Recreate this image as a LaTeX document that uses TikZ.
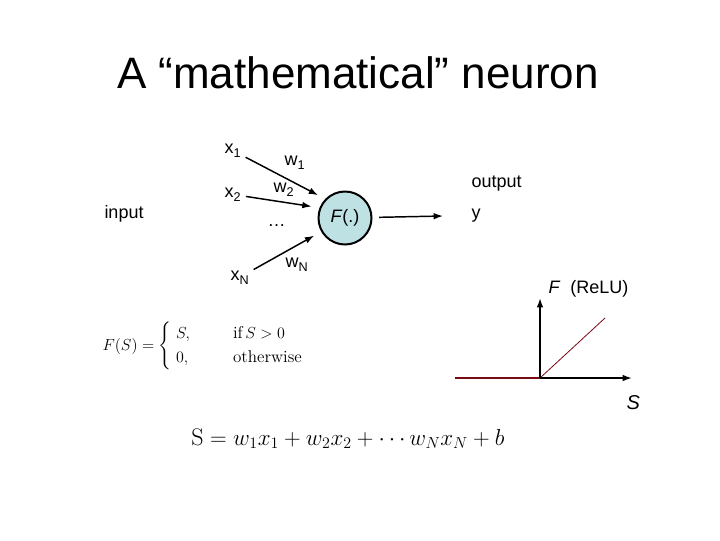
\documentclass[tikz,border=0pt]{standalone}
\usepackage{fontspec}
\usepackage{amsmath}
\newfontfamily\arialfont{Liberation Sans}
\usetikzlibrary{arrows.meta}

\definecolor{cellfill}{RGB}{190,225,228}
\definecolor{relured}{RGB}{120,10,20}
\newcommand{\lowsub}[1]{\raisebox{-0.45ex}{\fontsize{9.5}{11}\selectfont #1}}

\tikzset{every picture/.style={line width=0.75pt}}
\tikzset{
  lbl/.style={anchor=base west,inner sep=0.75pt,font=\arialfont\fontsize{13.5}{16}\selectfont},
  syn/.style={-{Latex[length=7pt,width=5pt]},line width=1.1pt,shorten <=3pt,shorten >=6pt},
  axis/.style={-{Latex[length=7pt,width=5pt]},line width=1.3pt}
}

\begin{document}
\begin{tikzpicture}[x=0.75pt,y=0.75pt,yscale=-1,xscale=1]
%set diagram: 720 x 540
\path (0,0) rectangle (720,540);

% Text Node
\node (title) [anchor=base,inner sep=0pt,font=\arialfont\fontsize{33}{40}\selectfont] at (358,88) {A “mathematical” neuron};

%Shape: Circle
\node (neuron) [circle,draw,line width=1.5pt,fill=cellfill,minimum size=53*0.75pt,inner sep=0pt,font=\arialfont\fontsize{13.5}{16}\selectfont] at (345,218) {\textit{F}(.)};

% Text Node
\node (x1) [lbl] at (223,153) {x\lowsub{1}};
% Text Node
\node (x2) [lbl] at (223,197) {x\lowsub{2}};
% Text Node
\node (xN) [lbl] at (229,280) {x\lowsub{N}};
% Text Node
\node (dots) [lbl] at (266,226) {\dots};
% Text Node
\node (w1) [lbl] at (283,165) {w\lowsub{1}};
% Text Node
\node (w2) [lbl] at (272,192) {w\lowsub{2}};
% Text Node
\node (wN) [lbl] at (284,267) {w\lowsub{N}};
% Text Node
\node (inp) [lbl] at (103,218) {input};
% Text Node
\node (outp) [lbl] at (470,187) {output};
% Text Node
\node (y) [lbl] at (470,218) {y};
\coordinate (yin) at (443,216);

%Straight Lines
\draw [syn] (x1) -- (neuron.136);
%Straight Lines
\draw [syn] (x2) -- (neuron.158);
%Straight Lines
\draw [syn] (xN) -- (neuron.210);
%Straight Lines
\draw [syn,shorten <=5pt,shorten >=0pt] (neuron) -- (yin);

% Text Node
\node (relu) [anchor=center,inner sep=0.75pt,font=\fontsize{12.8}{15}\selectfont] at (203,346)
  {$F(S)=\begin{cases} \;S, & \quad\;\;\text{if}\,S>0\\ \;0, & \quad\;\;\text{otherwise}\end{cases}$};
% Text Node
\node (sum) [anchor=base,inner sep=0.75pt,font=\fontsize{18}{21}\selectfont] at (348,445)
  {$\mathrm{S}=w_1x_1+w_2x_2+\cdots w_Nx_N+b$};

%Axes
\coordinate (o) at (540,378);
\coordinate (ytip) at (540,298);
\coordinate (xtip) at (632,378);
\coordinate (xneg) at (455,378);
\coordinate (rtip) at (605,318);
\draw [relured,line width=2pt] (xneg) -- (o);
\draw [relured,line width=0.6pt] (o) -- (rtip);
\draw [axis] (o) -- (ytip);
\draw [axis] (o) -- (xtip);

% Text Node
\node (flbl) [lbl] at (547,293) {\textit{F}\ \ (ReLU)};
% Text Node
\node (slbl) [lbl,font=\arialfont\fontsize{15}{18}\selectfont] at (625,409) {\textit{S}};

\end{tikzpicture}
\end{document}
